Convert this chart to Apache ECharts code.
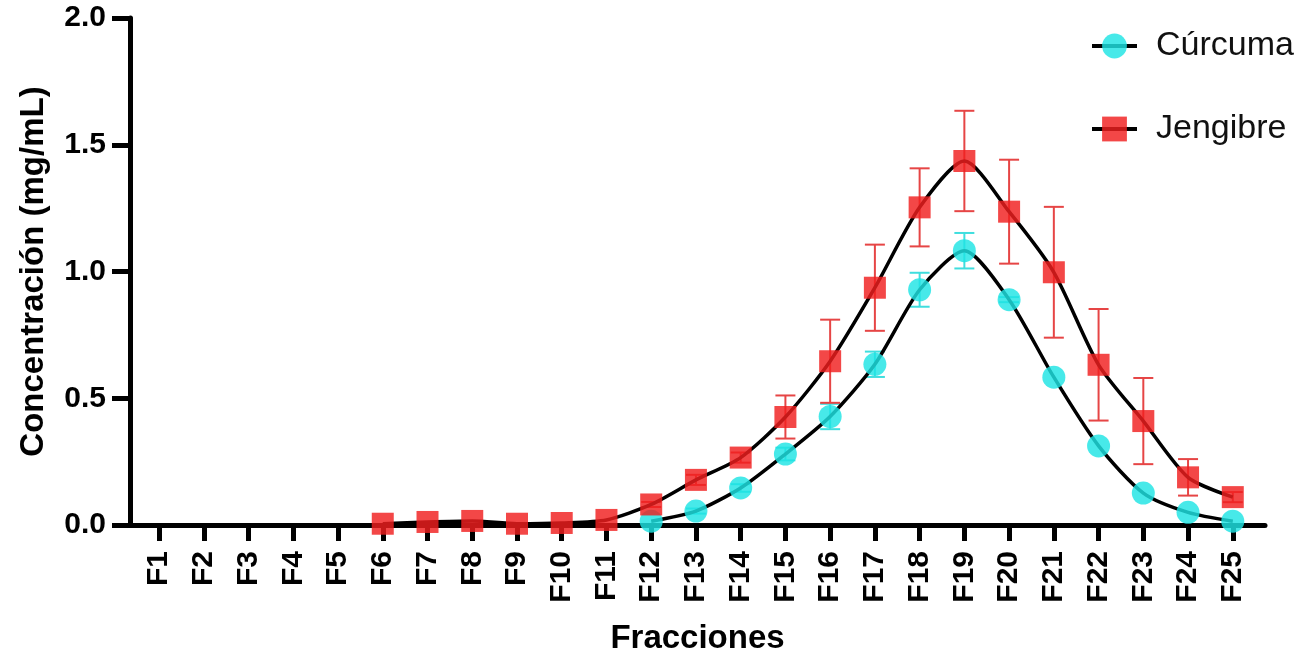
<!DOCTYPE html>
<html>
<head>
<meta charset="utf-8">
<script src="https://cdn.jsdelivr.net/npm/echarts@6/dist/echarts.min.js"></script>
<style>
html,body{margin:0;padding:0;background:#fff;}
#c{width:1301px;height:656px;}
</style>
</head>
<body>
<div id="c"></div>
<script>
const categories = ['F1','F2','F3','F4','F5','F6','F7','F8','F9','F10','F11','F12','F13','F14','F15','F16','F17','F18','F19','F20','F21','F22','F23','F24','F25'];
const curcuma    = [null,null,null,null,null,null,null,null,null,null,null,0.015,0.055,0.146,0.28,0.428,0.634,0.928,1.082,0.889,0.583,0.312,0.126,0.05,0.015];
const curcumaErr = [null,null,null,null,null,null,null,null,null,null,null,0,0.01,0.015,0.025,0.05,0.05,0.067,0.07,0.01,0,0,0,0,0];
const jengibre    = [null,null,null,null,null,0.005,0.012,0.016,0.005,0.008,0.02,0.081,0.178,0.266,0.426,0.646,0.936,1.253,1.436,1.236,0.997,0.632,0.41,0.188,0.11];
const jengibreErr = [null,null,null,null,null,0,0,0,0,0,0,0.01,0.02,0.02,0.085,0.164,0.17,0.154,0.198,0.205,0.258,0.22,0.17,0.072,0.02];
const yTicks = [0, 0.5, 1.0, 1.5, 2.0];

const toPts = arr => arr.map((v, i) => [i, v]);
const toErr = (vals, errs) => vals.map((v, i) => (v == null || !errs[i]) ? null : [i, v - errs[i], v + errs[i]]).filter(d => d);

function errRender(color) {
  return function (params, api) {
    const x = api.value(0);
    const lo = api.coord([x, api.value(1)]);
    const hi = api.coord([x, api.value(2)]);
    const w = 10;
    const st = { stroke: color, lineWidth: 2 };
    return {
      type: 'group',
      children: [
        { type: 'line', shape: { x1: lo[0], y1: lo[1], x2: hi[0], y2: hi[1] }, style: st },
        { type: 'line', shape: { x1: lo[0] - w, y1: lo[1], x2: lo[0] + w, y2: lo[1] }, style: st },
        { type: 'line', shape: { x1: hi[0] - w, y1: hi[1], x2: hi[0] + w, y2: hi[1] }, style: st }
      ]
    };
  };
}

const chart = echarts.init(document.getElementById('c'));
const FONT = '"Liberation Sans", Arial, sans-serif';
chart.setOption({
  animation: false,
  backgroundColor: '#fff',
  grid: { left: 130, right: 36, top: 18, bottom: 131, outerBoundsMode: 'none', containLabel: false },
  legend: {
    orient: 'vertical',
    left: 1085,
    top: 24,
    itemWidth: 45,
    itemHeight: 31,
    itemGap: 49,
    lineStyle: { width: 4, color: '#000' },
    textStyle: { fontFamily: FONT, fontSize: 34, color: '#111', padding: [0, 0, 0, 14] },
    data: ['Cúrcuma', 'Jengibre']
  },
  xAxis: {
    type: 'value',
    min: -0.65,
    max: 24.72,
    name: 'Fracciones',
    nameLocation: 'middle',
    nameGap: 97,
    nameTextStyle: { fontFamily: FONT, fontSize: 33, fontWeight: 'bold', color: '#000' },
    splitLine: { show: false },
    axisLine: { onZero: false, lineStyle: { color: '#000', width: 5 } },
    axisTick: { show: true, length: 16, lineStyle: { color: '#000', width: 5 }, customValues: categories.map((c, i) => i) },
    axisLabel: {
      customValues: categories.map((c, i) => i),
      formatter: v => categories[v] || '',
      rotate: 90,
      margin: 26,
      fontFamily: FONT, fontSize: 30, fontWeight: 'bold', color: '#000'
    }
  },
  yAxis: {
    type: 'value',
    min: 0,
    max: 2,
    interval: 0.5,
    name: 'Concentración (mg/mL)',
    nameLocation: 'middle',
    nameGap: 80,
    nameTextStyle: { fontFamily: FONT, fontSize: 33, fontWeight: 'bold', color: '#000' },
    splitLine: { show: false },
    axisLine: { show: true, onZero: false, lineStyle: { color: '#000', width: 5 } },
    axisTick: { show: true, length: 18, lineStyle: { color: '#000', width: 5 } },
    axisLabel: {
      margin: 24,
      formatter: v => v.toFixed(1),
      fontFamily: FONT, fontSize: 30, fontWeight: 'bold', color: '#000'
    }
  },
  series: [
    {
      name: 'Cúrcuma err', type: 'custom', z: 1,
      renderItem: errRender('#3fdede'),
      data: toErr(curcuma, curcumaErr),
      encode: { x: 0, y: [1, 2] }
    },
    {
      name: 'Jengibre err', type: 'custom', z: 1,
      renderItem: errRender('#e64545'),
      data: toErr(jengibre, jengibreErr),
      encode: { x: 0, y: [1, 2] }
    },
    {
      name: 'Cúrcuma', type: 'line', z: 3,
      data: toPts(curcuma),
      smooth: 0.25,
      symbol: 'circle', symbolSize: 23,
      lineStyle: { color: '#000', width: 3.5 },
      itemStyle: { color: 'rgba(30,228,228,0.82)', borderWidth: 0 }
    },
    {
      name: 'Jengibre', type: 'line', z: 3,
      data: toPts(jengibre),
      smooth: 0.25,
      symbol: 'rect', symbolSize: 22,
      lineStyle: { color: '#000', width: 3.5 },
      itemStyle: { color: 'rgba(240,30,30,0.82)', borderWidth: 0 }
    }
  ]
});
</script>
</body>
</html>
